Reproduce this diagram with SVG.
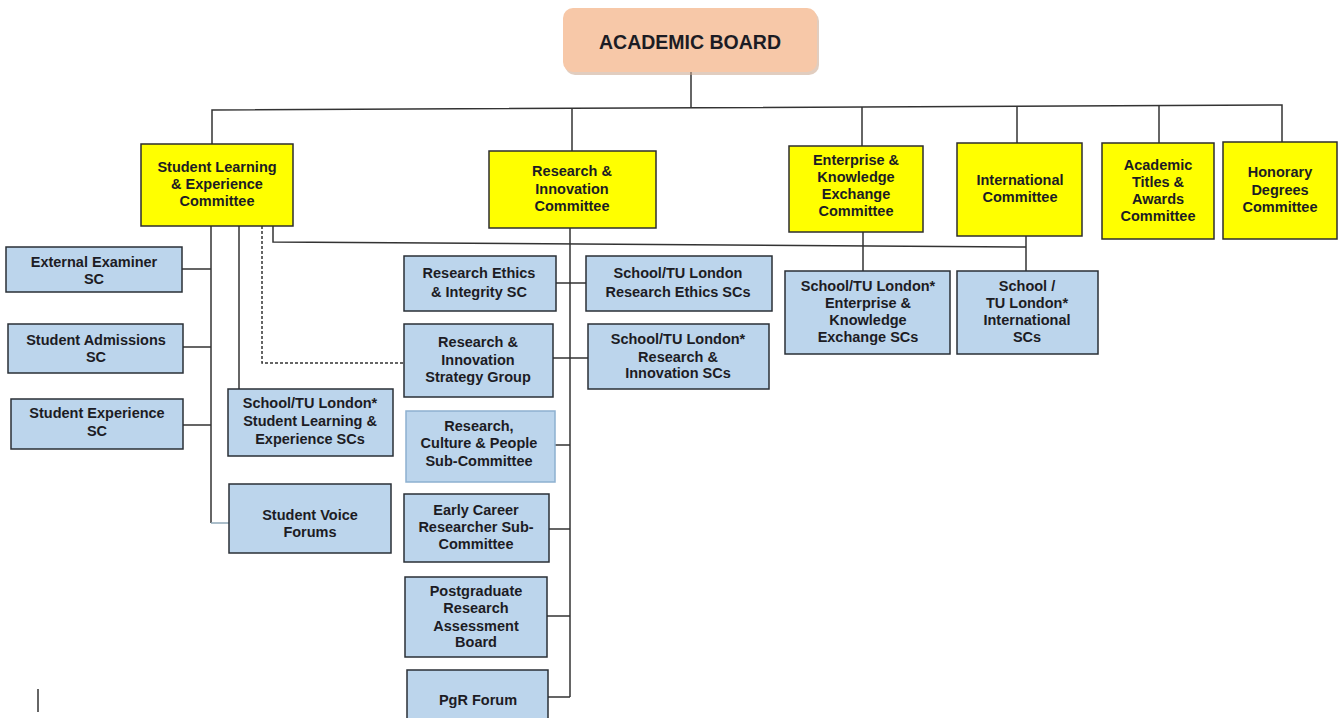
<svg xmlns="http://www.w3.org/2000/svg" width="1341" height="718" viewBox="0 0 1341 718">
<style>
.y{fill:#ffff00;stroke:#2e2e2e;stroke-width:1.5}
.b{fill:#bcd5ec;stroke:#2a2f36;stroke-width:1.5}
.bl{fill:#bcd5ec;stroke:#8db0d0;stroke-width:1.5}
.t{font-family:"Liberation Sans",Arial,sans-serif;font-weight:bold;font-size:14.5px;fill:#1c1c24;text-anchor:middle}
.c{fill:none;stroke:#333;stroke-width:1.5}
</style>
<rect width="1341" height="718" fill="#ffffff"/>
<g id="connectors">
<path class="c" d="M691 72 V108"/>
<path class="c" d="M212 145 V110 L1282 105 V142"/>
<path class="c" d="M572 108.3 V151"/>
<path class="c" d="M862 107 V146"/>
<path class="c" d="M1017 106.2 V143"/>
<path class="c" d="M1159 105.6 V143"/>
<path class="c" d="M211 226 V523"/>
<path d="M211 523 H229" fill="none" stroke="#8fa9b8" stroke-width="1.5"/>
<path class="c" d="M182 269 H211 M183 347 H211 M183 425 H211"/>
<path class="c" d="M239 226 V389"/>
<path class="c" d="M262 226 V363 H404" stroke-dasharray="3 2"/>
<path class="c" d="M273 226 V242 L1026 247"/>
<path class="c" d="M1026 236 V271"/>
<path class="c" d="M863 232 V271"/>
<path class="c" d="M570 228 V697"/>
<path class="c" d="M556 283 H586 M553 358 H588 M555 445 H570 M549 529 H570 M547 616 H570 M548 697 H570"/>
<path class="c" d="M38 689 V712"/>
</g>
<g id="academic-board">
<rect x="565" y="11" width="254" height="64" rx="10" fill="#c8a48a" opacity="0.55"/>
<rect x="563" y="8" width="254" height="64" rx="10" fill="#f7c8a8"/>
<text class="t" x="690" y="49" font-size="19.5" style="font-size:19.5px">ACADEMIC BOARD</text>
</g>
<g id="slec">
<rect class="y" x="141" y="144" width="152" height="82"/>
<text class="t" x="217"><tspan x="217" y="172">Student Learning</tspan><tspan x="217" y="189">&amp; Experience</tspan><tspan x="217" y="206">Committee</tspan></text>
</g>
<g id="ric">
<rect class="y" x="489" y="151" width="167" height="77"/>
<text class="t"><tspan x="572" y="176">Research &amp;</tspan><tspan x="572" y="194">Innovation</tspan><tspan x="572" y="211">Committee</tspan></text>
</g>
<g id="ekec">
<rect class="y" x="789" y="146" width="134" height="86"/>
<text class="t"><tspan x="856" y="165">Enterprise &amp;</tspan><tspan x="856" y="182">Knowledge</tspan><tspan x="856" y="199">Exchange</tspan><tspan x="856" y="216">Committee</tspan></text>
</g>
<g id="intl">
<rect class="y" x="957" y="143" width="125" height="93"/>
<text class="t"><tspan x="1020" y="185">International</tspan><tspan x="1020" y="202">Committee</tspan></text>
</g>
<g id="ata">
<rect class="y" x="1102" y="143" width="112" height="96"/>
<text class="t"><tspan x="1158" y="170">Academic</tspan><tspan x="1158" y="187">Titles &amp;</tspan><tspan x="1158" y="204">Awards</tspan><tspan x="1158" y="221">Committee</tspan></text>
</g>
<g id="hon">
<rect class="y" x="1223" y="142" width="114" height="97"/>
<text class="t"><tspan x="1280" y="177">Honorary</tspan><tspan x="1280" y="195">Degrees</tspan><tspan x="1280" y="212">Committee</tspan></text>
</g>
<g id="ext">
<rect class="b" x="6" y="247" width="176" height="45"/>
<text class="t"><tspan x="94" y="267">External Examiner</tspan><tspan x="94" y="284">SC</tspan></text>
</g>
<g id="adm">
<rect class="b" x="8" y="324" width="175" height="49"/>
<text class="t"><tspan x="96" y="345">Student Admissions</tspan><tspan x="96" y="362">SC</tspan></text>
</g>
<g id="sexp">
<rect class="b" x="11" y="399" width="172" height="50"/>
<text class="t"><tspan x="97" y="418">Student Experience</tspan><tspan x="97" y="436">SC</tspan></text>
</g>
<g id="sle-sc">
<rect class="b" x="228" y="389" width="165" height="67"/>
<text class="t"><tspan x="310" y="408">School/TU London*</tspan><tspan x="310" y="426">Student Learning &amp;</tspan><tspan x="310" y="444">Experience SCs</tspan></text>
</g>
<g id="voice">
<rect class="b" x="229" y="484" width="162" height="69"/>
<text class="t"><tspan x="310" y="520">Student Voice</tspan><tspan x="310" y="537">Forums</tspan></text>
</g>
<g id="rei">
<rect class="b" x="404" y="256" width="152" height="55"/>
<text class="t"><tspan x="479" y="278">Research Ethics</tspan><tspan x="479" y="297">&amp; Integrity SC</tspan></text>
</g>
<g id="rei-sc">
<rect class="b" x="586" y="256" width="186" height="55"/>
<text class="t"><tspan x="678" y="278">School/TU London</tspan><tspan x="678" y="297">Research Ethics SCs</tspan></text>
</g>
<g id="risg">
<rect class="b" x="404" y="324" width="149" height="73"/>
<text class="t"><tspan x="478" y="347">Research &amp;</tspan><tspan x="478" y="365">Innovation</tspan><tspan x="478" y="382">Strategy Group</tspan></text>
</g>
<g id="ri-sc">
<rect class="b" x="588" y="324" width="181" height="65"/>
<text class="t"><tspan x="678" y="344">School/TU London*</tspan><tspan x="678" y="362">Research &amp;</tspan><tspan x="678" y="378">Innovation SCs</tspan></text>
</g>
<g id="rcp">
<rect class="bl" x="406" y="411" width="149" height="71"/>
<text class="t"><tspan x="479" y="431">Research,</tspan><tspan x="479" y="448">Culture &amp; People</tspan><tspan x="479" y="466">Sub-Committee</tspan></text>
</g>
<g id="ecr">
<rect class="b" x="404" y="494" width="145" height="68"/>
<text class="t"><tspan x="476" y="515">Early Career</tspan><tspan x="476" y="532">Researcher Sub-</tspan><tspan x="476" y="549">Committee</tspan></text>
</g>
<g id="pgrab">
<rect class="b" x="405" y="577" width="142" height="80"/>
<text class="t"><tspan x="476" y="596">Postgraduate</tspan><tspan x="476" y="613">Research</tspan><tspan x="476" y="631">Assessment</tspan><tspan x="476" y="647">Board</tspan></text>
</g>
<g id="pgrf">
<rect class="b" x="407" y="670" width="141" height="52"/>
<text class="t"><tspan x="478" y="705">PgR Forum</tspan></text>
</g>
<g id="eke-sc">
<rect class="b" x="785" y="271" width="165" height="83"/>
<text class="t"><tspan x="868" y="291">School/TU London*</tspan><tspan x="868" y="308">Enterprise &amp;</tspan><tspan x="868" y="325">Knowledge</tspan><tspan x="868" y="342">Exchange SCs</tspan></text>
</g>
<g id="intl-sc">
<rect class="b" x="957" y="271" width="141" height="83"/>
<text class="t"><tspan x="1027" y="291">School /</tspan><tspan x="1027" y="308">TU London*</tspan><tspan x="1027" y="325">International</tspan><tspan x="1027" y="342">SCs</tspan></text>
</g>
</svg>
